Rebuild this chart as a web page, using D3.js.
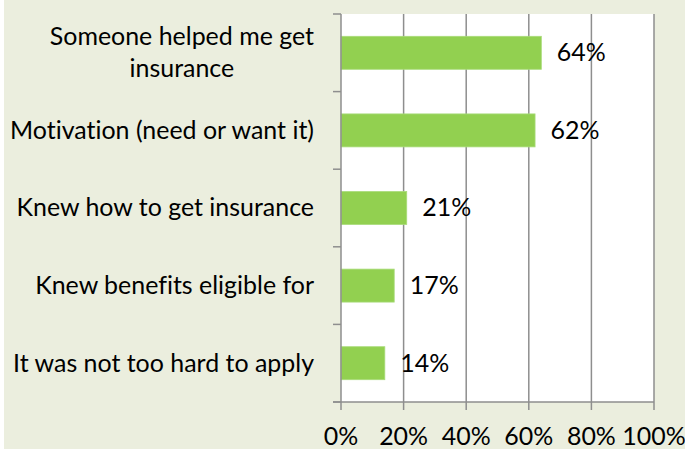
<!DOCTYPE html>
<html>
<head>
<meta charset="utf-8">
<script src="https://cdn.jsdelivr.net/npm/d3@7"></script>
<style>
  html, body { margin: 0; padding: 0; background: #ffffff; }
  svg { display: block; }
  text { font-variant-ligatures: none; font-feature-settings: "liga" 0, "clig" 0; }
</style>
</head>
<body>
<script>
const categories = [
  ["Someone helped me get", "insurance"],
  ["Motivation (need or want it)"],
  ["Knew how to get insurance"],
  ["Knew benefits eligible for"],
  ["It was not too hard to apply"]
];
const values = [64, 62, 21, 17, 14];
const valueLabels = ["64%", "62%", "21%", "17%", "14%"];
const xTicks = [0, 20, 40, 60, 80, 100];
const xTickLabels = ["0%", "20%", "40%", "60%", "80%", "100%"];

const W = 685, H = 449;
const margin = { left: 341, right: 31, top: 14, bottom: 47 };
const FONT = "Lato, 'Open Sans', sans-serif";

const svg = d3.select("body").append("svg").attr("width", W).attr("height", H);

// background
svg.append("rect").attr("x", 0).attr("y", 0).attr("width", W).attr("height", H).attr("fill", "#ffffff");
svg.append("rect").attr("x", 4).attr("y", 0).attr("width", W - 4).attr("height", H).attr("fill", "#EBEEDE");

// font size fitting to reference width of the widest single label
const probe = svg.append("text").attr("font-family", FONT).attr("font-size", 24).text("Motivation (need or want it)");
const w24 = probe.node().getComputedTextLength();
probe.remove();
const fs = 24 * 304 / w24;

const x = d3.scaleLinear().domain([0, 100]).range([margin.left, W - margin.right]);
const y = d3.scaleBand().domain(d3.range(categories.length)).range([margin.top, H - margin.bottom]).paddingInner(0.575).paddingOuter(0.2875);

const plotTop = margin.top, plotBottom = H - margin.bottom;

// plot area
svg.append("rect").attr("x", x(0)).attr("y", plotTop).attr("width", x(100) - x(0)).attr("height", plotBottom - plotTop).attr("fill", "#ffffff");

// gridlines
svg.append("g").selectAll("line").data(xTicks.filter(d => d > 0)).join("line")
  .attr("x1", d => x(d)).attr("x2", d => x(d))
  .attr("y1", plotTop).attr("y2", plotBottom + 8)
  .attr("stroke", "#8E8E8E").attr("stroke-width", 1.5);

// bars
svg.append("g").selectAll("rect").data(values).join("rect")
  .attr("x", x(0)).attr("y", (d, i) => y(i))
  .attr("width", d => x(d) - x(0)).attr("height", y.bandwidth())
  .attr("fill", "#92D050").attr("stroke", "#A9DB7A").attr("stroke-width", 0.8);

// x axis line & ticks
svg.append("line").attr("x1", x(0) - 8).attr("x2", x(100)).attr("y1", plotBottom).attr("y2", plotBottom)
  .attr("stroke", "#8E8E8E").attr("stroke-width", 1.5);
svg.append("line").attr("x1", x(0)).attr("x2", x(0)).attr("y1", plotTop).attr("y2", plotBottom + 8)
  .attr("stroke", "#8E8E8E").attr("stroke-width", 1.5);

// y ticks at band boundaries
const step = (plotBottom - plotTop) / categories.length;
svg.append("g").selectAll("line").data(d3.range(categories.length + 1)).join("line")
  .attr("x1", x(0) - 8).attr("x2", x(0))
  .attr("y1", d => plotTop + d * step).attr("y2", d => plotTop + d * step)
  .attr("stroke", "#8E8E8E").attr("stroke-width", 1.5);

// x tick labels
svg.append("g").selectAll("text").data(xTicks).join("text")
  .attr("x", d => x(d)).attr("y", 445)
  .attr("text-anchor", "middle").attr("font-family", FONT).attr("font-size", fs).attr("fill", "#000")
  .text((d, i) => xTickLabels[i]);

// category labels
const labelRight = 314;
const lineGap = 32;
categories.forEach((lines, i) => {
  const cy = y(i) + y.bandwidth() / 2;
  const g = svg.append("text").attr("font-family", FONT).attr("font-size", fs).attr("fill", "#000");
  if (lines.length === 1) {
    g.attr("x", labelRight).attr("y", cy + fs * 0.34).attr("text-anchor", "end").text(lines[0]);
  } else {
    const widths = lines.map(t => {
      const p = svg.append("text").attr("font-family", FONT).attr("font-size", fs).text(t);
      const w = p.node().getComputedTextLength(); p.remove(); return w;
    });
    const maxW = d3.max(widths);
    const cx = labelRight - maxW / 2;
    g.attr("text-anchor", "middle");
    lines.forEach((t, k) => {
      g.append("tspan").attr("x", cx)
        .attr("y", cy + fs * 0.34 + (k - (lines.length - 1) / 2) * lineGap).text(t);
    });
  }
});

// value labels
svg.append("g").selectAll("text").data(values).join("text")
  .attr("x", d => x(d) + 15.5).attr("y", (d, i) => y(i) + y.bandwidth() / 2 + fs * 0.34)
  .attr("font-family", FONT).attr("font-size", fs).attr("fill", "#000")
  .text((d, i) => valueLabels[i]);
</script>
</body>
</html>
